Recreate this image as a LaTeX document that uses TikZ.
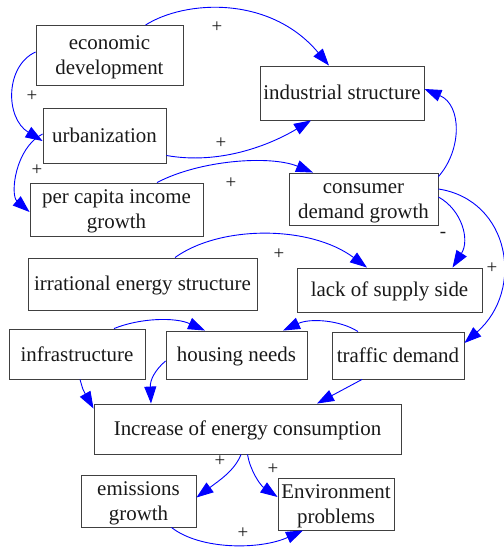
\documentclass[tikz,border=0pt]{standalone}
\usepackage{fontspec}
\setmainfont{Liberation Serif}
\usetikzlibrary{arrows.meta,calc}
\newcommand{\lnst}{\rule[-4bp]{0pt}{22bp}}
\begin{document}
\begin{tikzpicture}[x=1bp,y=-1bp,
 box/.style={draw=black!75, line width=0.9bp, rectangle, inner sep=0pt, align=center, font=\fontsize{21}{25}\selectfont, text=black!90},
 link/.style={draw=blue, line width=0.9bp, -{Triangle[length=17bp,width=12bp]}},
 sign/.style={font=\fontsize{19}{22}\selectfont, text=black!90, inner sep=0pt}]
\useasboundingbox (0,0) rectangle (504,550);
\node[box, minimum width=147bp, minimum height=60bp] (econ) at (109.5,55.5) {\lnst economic\\\lnst development};
\node[box, minimum width=164bp, minimum height=54bp] (ind) at (342,93) {\lnst industrial structure};
\node[box, minimum width=123bp, minimum height=55bp] (urb) at (104.5,135.5) {\lnst urbanization};
\node[box, minimum width=173bp, minimum height=53bp] (pci) at (116.5,209.5) {\lnst per capita income\\\lnst growth};
\node[box, minimum width=149bp, minimum height=52bp] (cdg) at (363.5,199) {\lnst consumer\\\lnst demand growth};
\node[box, minimum width=229bp, minimum height=52bp] (ies) at (142.5,284) {\lnst irrational energy structure};
\node[box, minimum width=185bp, minimum height=44bp] (lss) at (389.5,290) {\lnst lack of supply side};
\node[box, minimum width=136bp, minimum height=50bp] (inf) at (77,354) {\lnst infrastructure};
\node[box, minimum width=141bp, minimum height=48bp] (hou) at (236.5,355) {\lnst housing needs};
\node[box, minimum width=132bp, minimum height=47bp] (tra) at (398,355.5) {\lnst traffic demand};
\node[box, minimum width=307bp, minimum height=50bp] (iec) at (247.5,429) {\lnst Increase of energy consumption};
\node[box, minimum width=115bp, minimum height=52bp] (emi) at (138.5,501) {\lnst emissions\\\lnst growth};
\node[box, minimum width=116bp, minimum height=52bp] (env) at (336,504) {\lnst Environment\\\lnst problems};

% connectors
\draw[link] ([xshift=36bp]econ.north) .. controls (185,0) and (270,-5) .. ([xshift=-13bp]ind.north);
\draw[link] ([yshift=3.5bp]econ.west) .. controls (5,66) and (5,118) .. ([yshift=-5.5bp]urb.west);
\draw[link] ([yshift=-20bp]urb.east) .. controls (220,165) and (270,145) .. ([xshift=-31bp]ind.south);
\draw[link] ([yshift=1.5bp]urb.west) .. controls (15,148) and (10,195) .. ([yshift=-2.5bp]pci.west);
\draw[link] ([xshift=40.5bp]pci.north) .. controls (200,160) and (270,155) .. ([xshift=-50.5bp]cdg.north);
\draw[link] ([yshift=-4bp]cdg.north east) .. controls (462,150) and (462,105) .. ([yshift=4bp]ind.east);
\draw[link] ([yshift=2bp]cdg.east) .. controls (462,210) and (470,240) .. ([xshift=63bp]lss.north);
\draw[link] ([yshift=10bp]cdg.east) .. controls (510,200) and (525,290) .. ([yshift=12.5bp]tra.east);
\draw[link] ([xshift=32.5bp]ies.north) .. controls (220,225) and (310,225) .. ([xshift=-22.5bp]lss.north);
\draw[link] ([xshift=37bp]inf.north) .. controls (140,318) and (175,317) .. ([xshift=-31.5bp]hou.north);
\draw[link] ([xshift=-40bp]tra.north) .. controls (340,320) and (310,318) .. ([xshift=46.5bp]hou.north);
\draw[link] ([xshift=3bp]inf.south) .. controls (83,390) .. ([yshift=-5bp]iec.north west);
\draw[link] ([yshift=-6bp]hou.west) .. controls (155,370) and (150,380) .. ([xshift=-96.5bp]iec.north);
\draw[link] ([xshift=-36bp]tra.south) -- ([xshift=69.5bp]iec.north);
\draw[link] ([xshift=-6.5bp]iec.south) .. controls (235,470) and (220,480) .. ([yshift=3.5bp]emi.east);
\draw[link] (iec.south) .. controls (250,470) and (260,485) .. ([yshift=7bp]env.west);
\draw[link] ([xshift=33bp]emi.south) .. controls (200,550) and (260,550) .. ([xshift=-33bp]env.south);

% signs
\node[sign] (s1) at (217,27) {+};
\node[sign] (s2) at (32,96) {+};
\node[sign] (s3) at (221,143) {+};
\node[sign] (s4) at (37,170) {+};
\node[sign] (s5) at (231,183) {+};
\node[sign] (s6) at (443,235) {-};
\node[sign] (s7) at (492,268) {+};
\node[sign] (s8) at (279,254) {+};
\node[sign] (s9) at (220,461) {+};
\node[sign] (s10) at (273,469) {+};
\node[sign] (s11) at (243,533) {+};
\end{tikzpicture}
\end{document}
